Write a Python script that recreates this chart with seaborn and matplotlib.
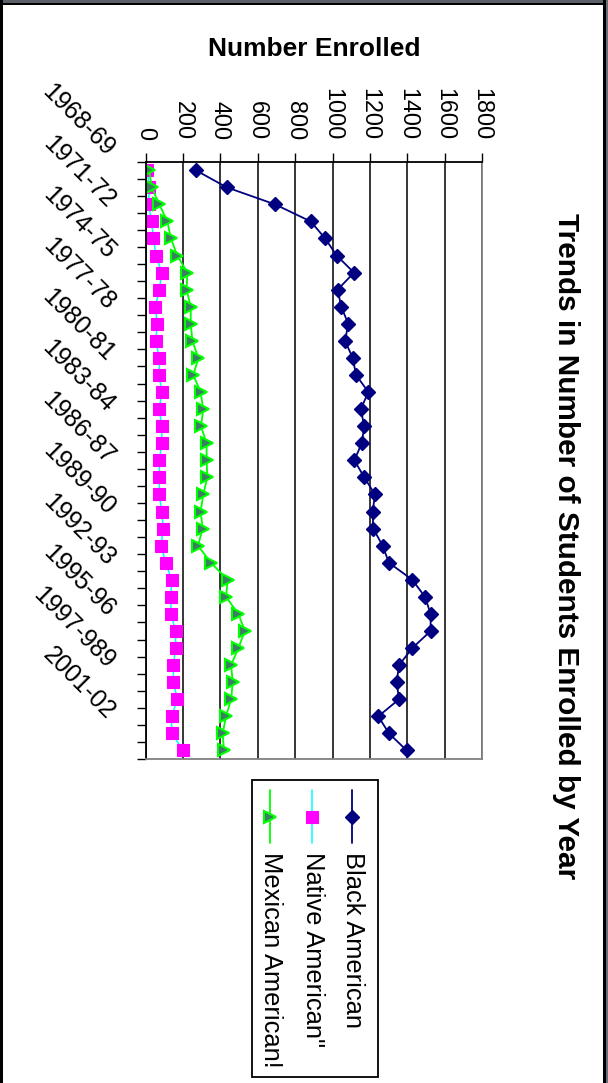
import numpy as np
import matplotlib
matplotlib.use("Agg")
import matplotlib.pyplot as plt
from matplotlib.lines import Line2D
from matplotlib.patches import Rectangle
from matplotlib.transforms import ScaledTranslation
import seaborn as sns

# ---- data -------------------------------------------------------------
years = [
    "1968-69", "1969-70", "1970-71", "1971-72", "1972-73", "1973-74",
    "1974-75", "1975-76", "1976-77", "1977-78", "1978-79", "1979-80",
    "1980-81", "1981-82", "1982-83", "1983-84", "1984-85", "1985-86",
    "1986-87", "1987-88", "1988-89", "1989-90", "1990-91", "1991-92",
    "1992-93", "1993-94", "1994-95", "1995-96", "1996-97", "1997-98",
    "1997-989", "1999-00", "2000-01", "2001-02", "2002-03",
]
black_american = [268, 433, 692, 883, 961, 1022, 1115, 1027, 1047, 1084,
                  1067, 1108, 1126, 1192, 1151, 1170, 1156, 1117, 1170, 1227,
                  1215, 1218, 1268, 1302, 1427, 1495, 1525, 1525, 1427, 1356,
                  1343, 1356, 1245, 1302, 1397]
native_american = [9, 19, 15, 32, 41, 55, 86, 73, 51, 62,
                   54, 73, 73, 86, 73, 86, 86, 73, 73, 73,
                   86, 94, 82, 107, 139, 135, 135, 160, 160, 148,
                   148, 169, 139, 139, 201]
mexican_american = [19, 32, 73, 116, 135, 169, 223, 219, 241, 241,
                    250, 282, 255, 294, 308, 296, 326, 326, 330, 308,
                    294, 305, 280, 349, 439, 430, 496, 531, 496, 457,
                    466, 457, 430, 412, 419]
value_ticks = [0, 200, 400, 600, 800, 1000, 1200, 1400, 1600, 1800]
legend_labels = ["Black American", "Native American\"", "Mexican American!"]

title = "Trends in Number of Students Enrolled by Year"
value_label = "Number Enrolled"

# ---- style ------------------------------------------------------------
sns.set_style("white")
plt.rcParams["font.family"] = ["Liberation Sans", "DejaVu Sans"]
plt.rcParams["text.color"] = "black"
plt.rcParams["axes.labelcolor"] = "black"
plt.rcParams["xtick.color"] = "black"
plt.rcParams["ytick.color"] = "black"

NAVY = "#000080"
MAGENTA = "#FF00FF"
CYAN = "#00FFFF"
GREEN = "#00FF00"
TEAL_FILL = "#3A7F62"

W, H, DPI = 608, 1083, 100
fig = plt.figure(figsize=(W / DPI, H / DPI), dpi=DPI)
fig.patch.set_facecolor("white")


def fx(px):
    return px / W


def fy(py):
    return 1 - py / H


# plot area (value axis runs across, years run downward)
ax = fig.add_axes([fx(145.7), fy(759), fx(482) - fx(145.7), fy(161.7) - fy(759)])
pos = np.arange(len(years))

series_styles = [
    (black_american, dict(color=NAVY, linewidth=1.3, marker="D", markersize=7.6,
                          markerfacecolor=NAVY, markeredgecolor=NAVY,
                          markeredgewidth=1.0)),
    (native_american, dict(color=CYAN, linewidth=1.1, marker="s", markersize=8.2,
                           markerfacecolor=MAGENTA, markeredgecolor=MAGENTA,
                           markeredgewidth=0.8)),
    (mexican_american, dict(color=GREEN, linewidth=1.3, marker=">", markersize=8.8,
                            markerfacecolor=TEAL_FILL, markeredgecolor=GREEN,
                            markeredgewidth=1.5)),
]
for values, style in series_styles:
    sns.lineplot(x=values, y=pos, orient="y", estimator=None, ax=ax, **style)

ax.set_xlim(0, 1800)
ax.set_ylim(len(years) - 0.5, -0.5)
ax.set_xlabel("")
ax.set_ylabel("")

# value axis along the top
ax.xaxis.tick_top()
ax.set_xticks(value_ticks)
ax.set_xticklabels([str(v) for v in value_ticks])
ax.tick_params(axis="x", which="major", top=True, bottom=False,
               labeltop=True, labelbottom=False, direction="out",
               length=6.2, width=1.0, pad=9.4, labelsize=16.8,
               labelrotation=-90, color="black", labelcolor="black")
ax.xaxis.grid(True, which="major", color="black", linewidth=1.1)
ax.yaxis.grid(False)
ax.set_axisbelow(True)

# year axis: tick marks between categories, labels every third year
label_idx = pos[::3]
ax.set_yticks(label_idx)
ax.set_yticklabels([years[i] for i in label_idx])
ax.set_yticks(np.arange(-0.5, len(years) + 0.5, 1.0), minor=True)
ax.tick_params(axis="y", which="major", left=True, length=0, pad=19,
               labelsize=17.8, labelcolor="black")
ax.tick_params(axis="y", which="minor", left=True, direction="out",
               length=6.5, width=1.0, color="black")
shift = ScaledTranslation(0, 0.09, fig.dpi_scale_trans)
for lbl in ax.get_yticklabels():
    lbl.set_rotation(-45)
    lbl.set_ha("right")
    lbl.set_va("bottom")
    lbl.set_transform(lbl.get_transform() + shift)

for side in ("left", "top"):
    ax.spines[side].set_color("black")
    ax.spines[side].set_linewidth(1.3)
for side in ("right", "bottom"):
    ax.spines[side].set_color("#808080")
    ax.spines[side].set_linewidth(1.3)

# value-axis title above the tick labels
ax.xaxis.set_label_position("top")
ax.set_xlabel(value_label, fontsize=19, fontweight="bold", color="black")
ax.xaxis.set_label_coords(0.5, 1.188)
ax.xaxis.label.set_va("center")

# chart title down the right side
fig.text(fx(566), fy(546), title, rotation=-90, fontsize=21.4,
         fontweight="bold", ha="center", va="center", color="black")

# legend box with vertical entries
fig.add_artist(Rectangle((fx(252), fy(1077)), fx(378) - fx(252), fy(780) - fy(1077),
                         transform=fig.transFigure, facecolor="white",
                         edgecolor="black", linewidth=1.3))
legend_x = [352, 311.5, 269.5]
for (values, style), label, lx in zip(series_styles, legend_labels, legend_x):
    fig.add_artist(Line2D([fx(lx), fx(lx)], [fy(790), fy(843)],
                          transform=fig.transFigure, color=style["color"],
                          linewidth=style["linewidth"]))
    fig.add_artist(Line2D([fx(lx)], [fy(817)], transform=fig.transFigure,
                          linestyle="none", marker=style["marker"],
                          markersize=style["markersize"],
                          markerfacecolor=style["markerfacecolor"],
                          markeredgecolor=style["markeredgecolor"],
                          markeredgewidth=style["markeredgewidth"]))
    fig.text(fx(lx + 1), fy(852), label, rotation=-90, fontsize=18.4,
             ha="center", va="top", color="black")

# window frame around the chart
fig.add_artist(Rectangle((0, fy(3)), 1, fy(0) - fy(3), transform=fig.transFigure,
                         facecolor="#5A6068", edgecolor="none"))
fig.add_artist(Rectangle((0, fy(5)), 1, fy(3) - fy(5), transform=fig.transFigure,
                         facecolor="black", edgecolor="none"))
fig.add_artist(Rectangle((0, 0), fx(2.5), 1, transform=fig.transFigure,
                         facecolor="black", edgecolor="none"))
fig.add_artist(Rectangle((fx(603), 0), fx(3), 1, transform=fig.transFigure,
                         facecolor="black", edgecolor="none"))
fig.add_artist(Rectangle((fx(606), 0), fx(2), 1, transform=fig.transFigure,
                         facecolor="#6A7078", edgecolor="none"))

fig.savefig("out.png", dpi=DPI)
